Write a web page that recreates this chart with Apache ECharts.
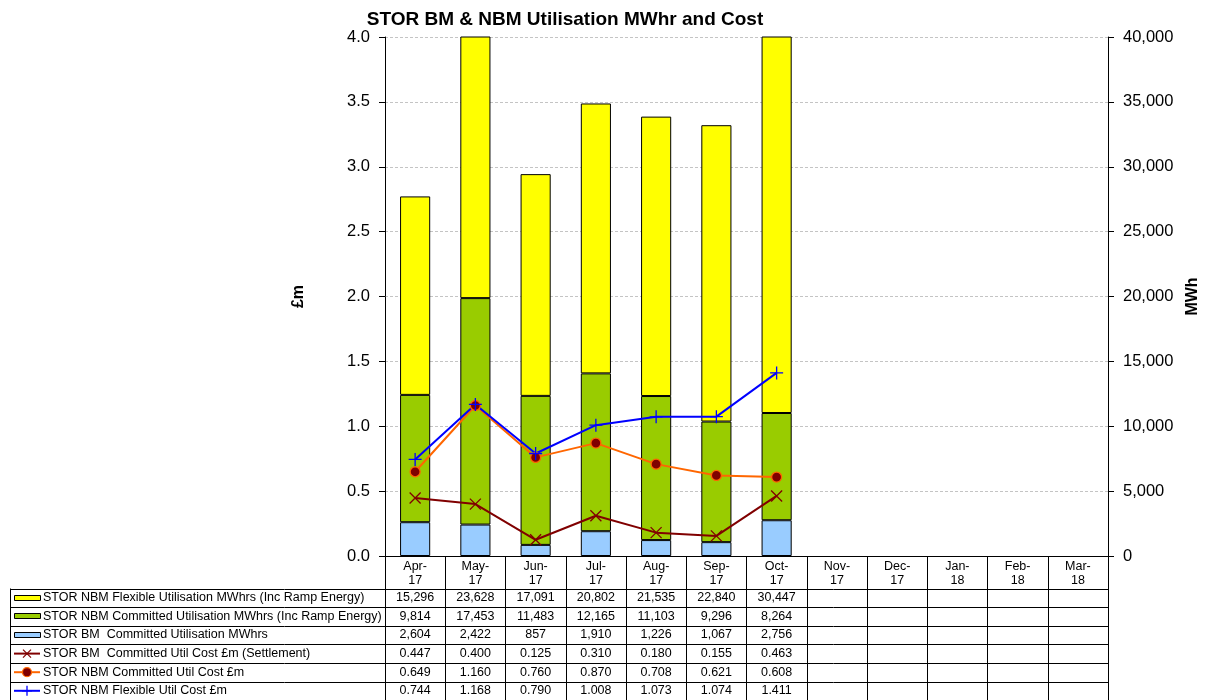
<!DOCTYPE html>
<html>
<head>
<meta charset="utf-8">
<script src="https://cdn.jsdelivr.net/npm/echarts@6/dist/echarts.min.js"></script>
<style>html,body{margin:0;padding:0;background:#fff}#c{width:1205px;height:700px}</style>
</head>
<body>
<div id="c"></div>
<script>
const categories = ['Apr-17','May-17','Jun-17','Jul-17','Aug-17','Sep-17','Oct-17','Nov-17','Dec-17','Jan-18','Feb-18','Mar-18'];
const nbmFlexMWh = [15296,23628,17091,20802,21535,22840,30447,null,null,null,null,null];
const nbmCommMWh = [9814,17453,11483,12165,11103,9296,8264,null,null,null,null,null];
const bmCommMWh  = [2604,2422,857,1910,1226,1067,2756,null,null,null,null,null];
const bmCommCost  = [0.447,0.400,0.125,0.310,0.180,0.155,0.463,null,null,null,null,null];
const nbmCommCost = [0.649,1.160,0.760,0.870,0.708,0.621,0.608,null,null,null,null,null];
const nbmFlexCost = [0.744,1.168,0.790,1.008,1.073,1.074,1.411,null,null,null,null,null];
const seriesNames = [
  'STOR NBM Flexible Utilisation MWhrs (Inc Ramp Energy)',
  'STOR NBM Committed Utilisation MWhrs (Inc Ramp Energy)',
  'STOR BM  Committed Utilisation MWhrs',
  'STOR BM  Committed Util Cost £m (Settlement)',
  'STOR NBM Committed Util Cost £m',
  'STOR NBM Flexible Util Cost £m'
];

const FONT = 'Liberation Sans, Arial, sans-serif';
const GL = 385, GR = 1108, GT = 37, GB = 556;
const colW = (GR - GL) / categories.length;
const rowTop = 588.5, rowH = 18.6;

const COL_FLEX = '#FFFF00', COL_COMM = '#99CC00', COL_BM = '#99CCFF';
const COL_BMC = '#800000', COL_NBMC = '#FF6600', COL_FLXC = '#0000FF';

const fmtMWh = v => v == null ? '' : v.toLocaleString('en-US');
const fmtCost = v => v == null ? '' : v.toFixed(3);

const rows = [
  {name: seriesNames[0], data: nbmFlexMWh, fmt: fmtMWh, kind: 'bar', color: COL_FLEX},
  {name: seriesNames[1], data: nbmCommMWh, fmt: fmtMWh, kind: 'bar', color: COL_COMM},
  {name: seriesNames[2], data: bmCommMWh, fmt: fmtMWh, kind: 'bar', color: COL_BM},
  {name: seriesNames[3], data: bmCommCost, fmt: fmtCost, kind: 'x', color: COL_BMC},
  {name: seriesNames[4], data: nbmCommCost, fmt: fmtCost, kind: 'dot', color: COL_NBMC},
  {name: seriesNames[5], data: nbmFlexCost, fmt: fmtCost, kind: 'plus', color: COL_FLXC}
];

const g = [];
const line = (x1,y1,x2,y2,stroke,w) => ({type:'line', silent:true, shape:{x1,y1,x2,y2}, style:{stroke:stroke||'#000', lineWidth:w||1}});
for (let i = 0; i <= rows.length; i++) {
  const y = Math.round(rowTop + i*rowH) + 0.5;
  g.push(line(10, y, GR, y));
}
g.push(line(10.5, rowTop, 10.5, 700));
rows.forEach((r, i) => {
  const cy = rowTop + i*rowH + rowH/2;
  const sx = 14, ex = 40, mx = 27;
  if (r.kind === 'bar') {
    g.push({type:'rect', silent:true, shape:{x:sx+0.5, y:Math.round(cy)-3+0.5, width:ex-sx, height:5}, style:{fill:r.color, stroke:'#000', lineWidth:1}});
  } else {
    g.push(line(sx, cy, ex, cy, r.color, 2));
    if (r.kind === 'x') {
      g.push(line(mx-4, cy-4, mx+4, cy+4, r.color, 1.3));
      g.push(line(mx-4, cy+4, mx+4, cy-4, r.color, 1.3));
    } else if (r.kind === 'dot') {
      g.push({type:'circle', silent:true, shape:{cx:mx, cy:cy, r:4.5}, style:{fill:'#800000', stroke:r.color, lineWidth:1.2}});
    } else {
      g.push(line(mx, cy-5, mx, cy+5, r.color, 1.3));
      g.push(line(mx-5, cy, mx+5, cy, r.color, 1.3));
    }
  }
  g.push({type:'text', silent:true, x:43, y:cy, style:{text:r.name, fill:'#000', font:'12.5px ' + FONT, textVerticalAlign:'middle', verticalAlign:'middle'}});
  r.data.forEach((v, j) => {
    const s = r.fmt(v);
    if (!s) return;
    g.push({type:'text', silent:true, x:GL + colW*(j+0.5), y:cy, style:{text:s, fill:'#000', font:'12.5px ' + FONT, align:'center', textAlign:'center', verticalAlign:'middle', textVerticalAlign:'middle'}});
  });
});

const chart = echarts.init(document.getElementById('c'), null, {renderer:'canvas'});
chart.setOption({
  backgroundColor: '#fff',
  animation: false,
  title: {
    text: 'STOR BM & NBM Utilisation MWhr and Cost',
    left: 560, top: 5, textAlign: 'center',
    textStyle: {fontFamily: FONT, fontSize: 19, fontWeight: 'bold', color: '#000'}
  },
  grid: {left: GL, right: 1205 - GR, top: GT, bottom: 700 - GB, containLabel: false, outerBoundsMode: 'none'},
  xAxis: {
    type: 'category', data: categories,
    axisLine: {lineStyle: {color: '#000', width: 1}},
    axisTick: {show: true, interval: 0, length: 144, lineStyle: {color: '#000'}},
    axisLabel: {interval: 0, margin: 4, fontFamily: FONT, fontSize: 12.5, color: '#000', lineHeight: 14,
      formatter: v => v.replace('-', '-\n')}
  },
  yAxis: [
    {
      type: 'value', min: 0, max: 4, interval: 0.5,
      name: '£m', nameLocation: 'middle', nameGap: 78, nameRotate: 90,
      nameTextStyle: {fontFamily: FONT, fontSize: 16, fontWeight: 'bold', color: '#000'},
      axisLine: {show: true, lineStyle: {color: '#000'}},
      axisTick: {show: true, length: 6, lineStyle: {color: '#000'}},
      axisLabel: {fontFamily: FONT, fontSize: 16.5, color: '#000', margin: 15, formatter: v => v.toFixed(1)},
      splitLine: {show: true, lineStyle: {color: '#c4c4c4', type: [3, 2], width: 1}}
    },
    {
      type: 'value', min: 0, max: 40000, interval: 5000, position: 'right',
      name: 'MWh', nameLocation: 'middle', nameGap: 76, nameRotate: 90,
      nameTextStyle: {fontFamily: FONT, fontSize: 16, fontWeight: 'bold', color: '#000'},
      axisLine: {show: true, lineStyle: {color: '#000'}},
      axisTick: {show: true, length: 6, lineStyle: {color: '#000'}},
      axisLabel: {fontFamily: FONT, fontSize: 16.5, color: '#000', margin: 15, formatter: v => v.toLocaleString('en-US')},
      splitLine: {show: false}
    }
  ],
  series: [
    {name: seriesNames[2], type: 'bar', stack: 'mwh', yAxisIndex: 1, data: bmCommMWh, barWidth: '50%', clip: true,
      itemStyle: {color: COL_BM, borderColor: '#000', borderWidth: 1}},
    {name: seriesNames[1], type: 'bar', stack: 'mwh', yAxisIndex: 1, data: nbmCommMWh, barWidth: '50%', clip: true,
      itemStyle: {color: COL_COMM, borderColor: '#000', borderWidth: 1}},
    {name: seriesNames[0], type: 'bar', stack: 'mwh', yAxisIndex: 1, data: nbmFlexMWh, barWidth: '50%', clip: true,
      itemStyle: {color: COL_FLEX, borderColor: '#000', borderWidth: 1}},
    {name: seriesNames[3], type: 'line', yAxisIndex: 0, data: bmCommCost,
      symbol: 'path://M0 0L10 10M10 0L0 10', symbolSize: 11, showAllSymbol: true,
      lineStyle: {color: COL_BMC, width: 2},
      itemStyle: {color: 'rgba(0,0,0,0)', borderColor: COL_BMC, borderWidth: 1.3}},
    {name: seriesNames[4], type: 'line', yAxisIndex: 0, data: nbmCommCost,
      symbol: 'circle', symbolSize: 10, showAllSymbol: true,
      lineStyle: {color: COL_NBMC, width: 2},
      itemStyle: {color: '#800000', borderColor: COL_NBMC, borderWidth: 1.3}},
    {name: seriesNames[5], type: 'line', yAxisIndex: 0, data: nbmFlexCost,
      symbol: 'path://M5 0L5 10M0 5L10 5', symbolSize: 13, showAllSymbol: true,
      lineStyle: {color: COL_FLXC, width: 2},
      itemStyle: {color: 'rgba(0,0,0,0)', borderColor: COL_FLXC, borderWidth: 1.3}}
  ],
  graphic: g
});
</script>
</body>
</html>
